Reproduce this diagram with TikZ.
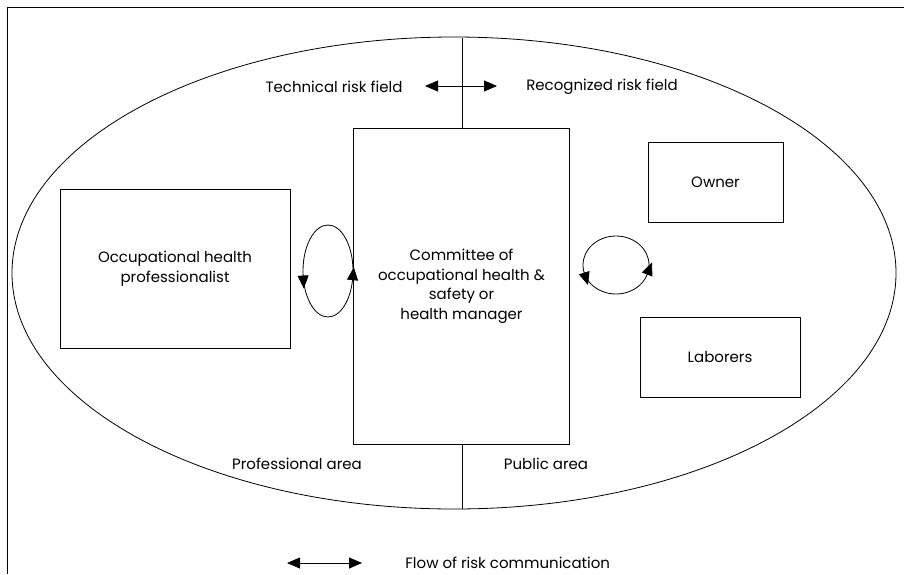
\documentclass[tikz,border=0pt]{standalone}
\usepackage{fontspec}
\setmainfont{Poppins}
\usetikzlibrary{arrows.meta,decorations.markings}
\tikzset{bighead/.tip={Triangle[length=13pt,width=11pt]}}
\begin{document}
\begin{tikzpicture}[x=1pt,y=-1pt,
  line width=0.8pt,
  lbl/.style={font=\fontsize{15}{19.5}\selectfont, inner sep=0pt, align=center},
  boxnode/.style={draw, line width=0.7pt, inner sep=0pt, font=\fontsize{15}{19.5}\selectfont, align=center},
  tip/.style={-{bighead}},
  looparrows/.style 2 args={postaction={decorate},
    decoration={markings,
      mark=at position #1 with {\arrow{Triangle[reversed,length=13pt,width=11pt]}},
      mark=at position #2 with {\arrow{Triangle[reversed,length=13pt,width=11pt]}}}}
]
\useasboundingbox (0,0) rectangle (904,574);

% frame (top and left edges)
\coordinate (fTL) at (7,7);
\coordinate (fTR) at (904,7);
\coordinate (fBL) at (7,574);
\draw[line width=1pt] (fTR) -- (fTL) -- (fBL);

% outer field
\coordinate (eC) at (454,273);
\draw[line width=0.8pt] (eC) ellipse [x radius=442, y radius=236];

% boxes
\node[boxnode, minimum width=216pt, minimum height=316pt] (committee) at (461.5,286.5)
  {Committee of\\occupational health \&\\safety or\\health manager};
\node[boxnode, minimum width=230pt, minimum height=159pt] (prof) at (175,268.5)
  {Occupational health\\professionalist};
\node[boxnode, minimum width=135pt, minimum height=80pt] (owner) at (715.5,182) {Owner};
\node[boxnode, minimum width=160pt, minimum height=80pt] (labor) at (720,357) {Laborers};

% dividing line
\coordinate (vTop) at (462,38);
\coordinate (vBot) at (462,509);
\draw (vTop) -- (committee.north -| vTop);
\draw (committee.south -| vBot) -- (vBot);

% field labels
\node[lbl] (tech) at (334,87) {Technical risk field};
\node[lbl] (recog) at (602,87) {Recognized risk field};
\node[lbl] (profarea) at (297,464) {Professional area};
\node[lbl] (pubarea) at (546,464) {Public area};

% arrows across the dividing line
\coordinate (aMid) at (462,86);
\coordinate (aL) at (425,86);
\coordinate (aR) at (497,86);
\draw[tip] (aMid) -- (aL);
\draw[tip] (aMid) -- (aR);

% communication loops
\coordinate (loopL) at (328,271);
\draw[looparrows={0.04}{0.48}] (loopL) ellipse [x radius=25, y radius=46];
\coordinate (loopR) at (616,265);
\draw[looparrows={0.05}{0.46}] (loopR) ellipse [x radius=33, y radius=29];

% legend
\coordinate (lgA) at (287,563);
\coordinate (lgB) at (362,563);
\draw[{bighead}-{bighead}] (lgA) -- (lgB);
\node[lbl, anchor=west] (lgtext) at (405,563) {Flow of risk communication};
\end{tikzpicture}
\end{document}
